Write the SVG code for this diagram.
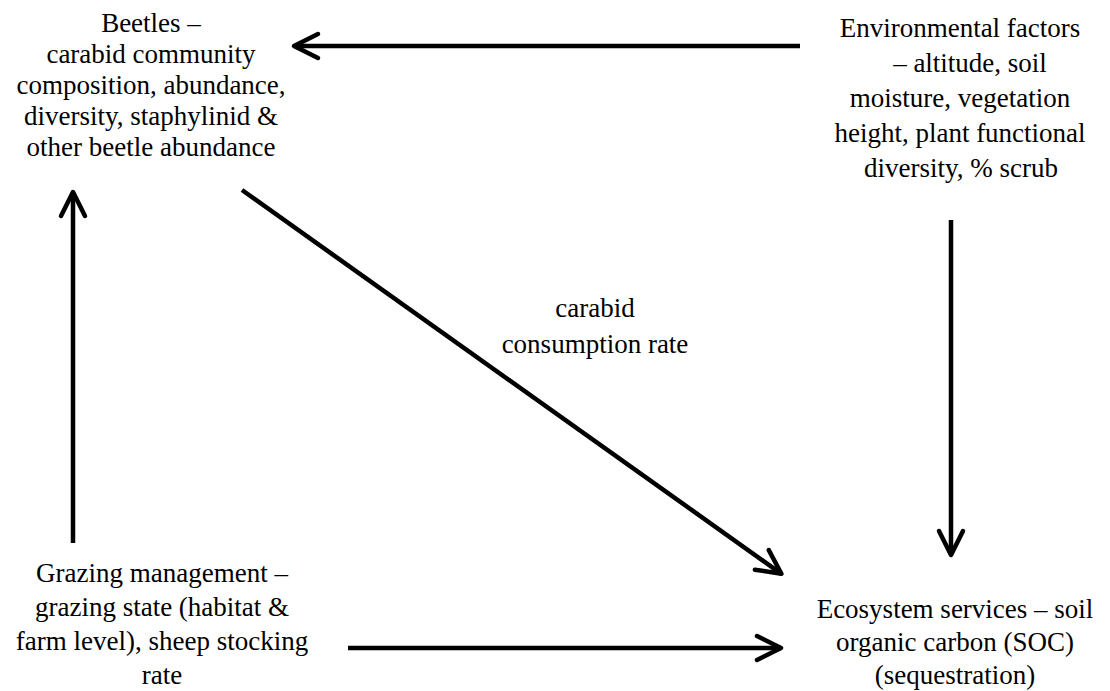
<svg xmlns="http://www.w3.org/2000/svg" width="1110" height="691" viewBox="0 0 1110 691">
  <style>
    text { font-family: "Liberation Serif", "Times New Roman", serif; font-size: 27px; fill: #000; text-anchor: middle; }
    .conn { stroke: #000; stroke-width: 4.5; fill: none; marker-end: url(#ah); }
  </style>
  <defs>
    <marker id="ah" markerUnits="userSpaceOnUse" markerWidth="60" markerHeight="60" viewBox="-30 -30 60 60" refX="0" refY="0" orient="auto" overflow="visible">
      <path d="M -24,-12 L 0,0 L -24,12" fill="none" stroke="#000" stroke-width="4.5" stroke-linecap="round" stroke-linejoin="round"/>
    </marker>
  </defs>
  <rect width="1110" height="691" fill="#fff"/>

  <g id="beetles">
    <text x="151" y="32">Beetles –</text>
    <text x="151" y="63">carabid community</text>
    <text x="151" y="94">composition, abundance,</text>
    <text x="151" y="125">diversity, staphylinid &amp;</text>
    <text x="151" y="156">other beetle abundance</text>
  </g>

  <g id="environment">
    <text x="960" y="37">Environmental factors</text>
    <text x="970" y="72">– altitude, soil</text>
    <text x="960" y="107">moisture, vegetation</text>
    <text x="960" y="142">height, plant functional</text>
    <text x="961" y="177">diversity, % scrub</text>
  </g>

  <g id="grazing">
    <text x="162" y="582">Grazing management –</text>
    <text x="162" y="616">grazing state (habitat &amp;</text>
    <text x="162" y="650">farm level), sheep stocking</text>
    <text x="162" y="684">rate</text>
  </g>

  <g id="ecosystem">
    <text x="955" y="618">Ecosystem services – soil</text>
    <text x="955" y="651">organic carbon (SOC)</text>
    <text x="955" y="684">(sequestration)</text>
  </g>

  <g id="connectors">
    <line class="conn" x1="800" y1="46" x2="294" y2="46"/>
    <line class="conn" x1="73" y1="543" x2="73" y2="192"/>
    <line class="conn" x1="951" y1="220" x2="951" y2="555"/>
    <line class="conn" x1="348" y1="648" x2="781" y2="648"/>
    <line class="conn" x1="242" y1="190" x2="781.4" y2="573.8"/>
    <text x="595" y="317">carabid</text>
    <text x="595" y="353">consumption rate</text>
  </g>
</svg>
